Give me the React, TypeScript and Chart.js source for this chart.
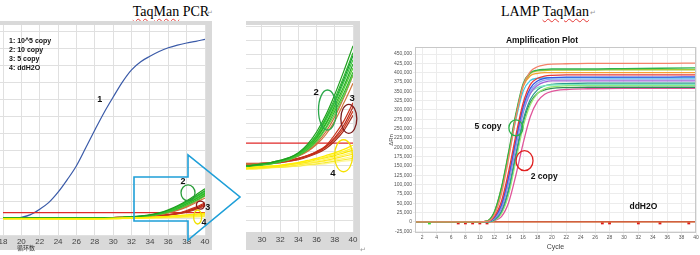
import React, { useEffect, useRef } from "react";
import { Chart, registerables } from "chart.js";

Chart.register(...registerables);

const SANS = '"Liberation Sans", Arial, sans-serif';
const SERIF = '"Liberation Serif", "Times New Roman", serif';

// ---------------- TaqMan PCR data (relative fluorescence units) ----------------
const pcrBlueCycles = [18, 19, 20, 21, 22, 23, 24, 25, 26, 27, 28, 29, 30, 31, 32, 33, 34, 35, 36, 37, 38, 39, 40];
const pcrBlue = [-0.3, -0.2, 0.2, 1.0, 2.6, 4.6, 7.6, 11.3, 15.4, 20.6, 25.9, 31.0, 35.6, 40.0, 43.6, 46.0, 47.6, 49.0, 50.1, 50.9, 51.5, 52.0, 52.6];

const pcrCycles = [18, 22, 26, 28, 29, 30, 31, 32, 33, 34, 35, 36, 37, 38, 39, 40];
const pcrGreen1 = [0, -0.05, -0.05, -0.05, 0.0, 0.1, 0.2, 0.35, 0.55, 0.9, 1.5, 2.4, 3.6, 5.1, 6.8, 8.6];
const pcrGreen2 = [0, -0.05, -0.05, -0.05, 0.0, 0.1, 0.2, 0.35, 0.55, 0.85, 1.4, 2.2, 3.4, 4.8, 6.4, 8.1];
const pcrGreen3 = [-0.05, -0.1, -0.1, -0.1, 0.0, 0.05, 0.15, 0.3, 0.5, 0.8, 1.3, 2.1, 3.2, 4.5, 6.0, 7.6];
const pcrGreen4 = [-0.05, -0.1, -0.1, -0.1, -0.05, 0.05, 0.15, 0.3, 0.5, 0.8, 1.3, 2.0, 3.0, 4.3, 5.7, 7.3];
const pcrGreen5 = [0, -0.05, -0.05, -0.05, 0.0, 0.05, 0.15, 0.3, 0.45, 0.75, 1.2, 1.9, 2.9, 4.1, 5.5, 7.0];
const pcrGreen6 = [-0.05, -0.1, -0.1, -0.1, -0.05, 0.05, 0.1, 0.25, 0.45, 0.7, 1.15, 1.8, 2.7, 3.9, 5.2, 6.7];
const pcrGreen7 = [-0.05, -0.1, -0.1, -0.1, -0.05, 0.0, 0.1, 0.25, 0.4, 0.7, 1.1, 1.7, 2.6, 3.7, 5.0, 6.5];
const pcrGreen8 = [0, -0.05, -0.05, -0.05, 0.0, 0.05, 0.15, 0.3, 0.5, 0.8, 1.3, 2.1, 3.3, 4.6, 6.2, 7.9];
const pcrBrown1 = [0.1, 0.1, 0.1, 0.1, 0.1, 0.15, 0.2, 0.3, 0.45, 0.7, 1.05, 1.6, 2.4, 3.5, 4.9, 6.5];
const pcrBrown2 = [0.1, 0.1, 0.1, 0.1, 0.1, 0.15, 0.2, 0.3, 0.4, 0.65, 1.0, 1.5, 2.2, 3.2, 4.5, 5.9];
const pcrRed1 = [0.15, 0.15, 0.15, 0.15, 0.15, 0.15, 0.2, 0.25, 0.35, 0.5, 0.7, 1.0, 1.4, 2.2, 3.2, 4.5];
const pcrRed2 = [0.1, 0.1, 0.1, 0.1, 0.1, 0.15, 0.2, 0.25, 0.35, 0.5, 0.7, 0.95, 1.35, 2.0, 2.9, 4.2];
const pcrRed3 = [0.1, 0.1, 0.1, 0.1, 0.1, 0.1, 0.15, 0.2, 0.3, 0.45, 0.65, 0.9, 1.3, 1.9, 2.7, 3.9];
const pcrRed4 = [0.1, 0.1, 0.1, 0.1, 0.1, 0.1, 0.15, 0.2, 0.3, 0.4, 0.6, 0.85, 1.2, 1.75, 2.5, 3.6];
const pcrYellow1 = [-0.15, -0.15, -0.2, -0.2, -0.15, -0.1, -0.05, 0.0, 0.1, 0.2, 0.35, 0.5, 0.7, 0.9, 1.15, 1.45];
const pcrYellow2 = [-0.15, -0.15, -0.2, -0.2, -0.15, -0.1, -0.05, 0.0, 0.1, 0.2, 0.3, 0.45, 0.6, 0.8, 1.0, 1.25];
const pcrYellow3 = [-0.2, -0.2, -0.25, -0.25, -0.2, -0.15, -0.1, -0.05, 0.05, 0.15, 0.25, 0.4, 0.55, 0.7, 0.9, 1.1];
const pcrYellow4 = [-0.2, -0.2, -0.25, -0.25, -0.2, -0.15, -0.1, -0.05, 0.0, 0.1, 0.2, 0.3, 0.45, 0.6, 0.75, 0.95];
const pcrYellow5 = [-0.2, -0.25, -0.25, -0.25, -0.2, -0.2, -0.15, -0.1, -0.05, 0.05, 0.15, 0.25, 0.35, 0.5, 0.65, 0.8];
const pcrYellow6 = [-0.25, -0.25, -0.3, -0.3, -0.25, -0.2, -0.15, -0.1, -0.05, 0.0, 0.1, 0.2, 0.3, 0.4, 0.5, 0.65];
const pcrYellow7 = [-0.25, -0.3, -0.3, -0.3, -0.25, -0.2, -0.15, -0.15, -0.1, -0.05, 0.05, 0.1, 0.2, 0.3, 0.4, 0.5];
const pcrYellow8 = [-0.3, -0.3, -0.3, -0.3, -0.3, -0.25, -0.2, -0.15, -0.1, -0.05, 0.0, 0.05, 0.1, 0.2, 0.3, 0.35];
const pcrThreshold = 1.6;
const pcrLegendLines = ["1: 10^5 copy", "2: 10 copy", "3: 5 copy", "4: ddH2O"];

// ---------------- LAMP TaqMan data (ΔRn, thousands) ----------------
const lampCycles = [1, 5, 10, 11, 12, 13, 14, 15, 16, 17, 18, 19, 20, 22, 25, 30, 35, 40];
const lampSalmon = [0, 0, 0, 1, 18, 75, 170, 280, 365, 403, 416, 421, 423, 424, 425, 425, 425, 426];
const lampGreen = [0, 0, 0, 2, 26, 92, 188, 290, 370, 400, 407, 409, 410, 410, 410, 411, 412, 413];
const lampYellowGreen = [0, 0, 0, 2, 24, 88, 182, 285, 366, 398, 405, 406, 407, 407, 407, 408, 408, 408];
const lampOrange = [0, 0, 0, 2, 25, 90, 184, 283, 362, 392, 398, 400, 400, 400, 400, 400, 400, 400];
const lampRed = [0, 0, 0, 1, 14, 55, 135, 232, 318, 368, 385, 391, 393, 394, 394, 394, 394, 394];
const lampBlue = [0, 0, 0, 1, 11, 46, 122, 220, 308, 358, 378, 385, 387, 388, 388, 388, 388, 389];
const lampCyan = [0, 0, 0, 2, 24, 86, 178, 274, 350, 379, 385, 386, 387, 387, 387, 386, 386, 386];
const lampLightBlue = [0, 0, 0, 1, 9, 40, 112, 208, 298, 350, 372, 380, 383, 383, 383, 383, 383, 383];
const lampPurple = [0, 0, 0, 1, 8, 36, 106, 202, 292, 344, 366, 375, 378, 378, 378, 378, 378, 378];
const lampMint = [0, 0, 0, 1, 10, 44, 118, 215, 300, 345, 360, 365, 367, 368, 368, 368, 368, 368];
const lampTeal = [0, 0, 0, 0, 5, 28, 88, 182, 272, 328, 354, 365, 369, 371, 372, 372, 372, 372];
const lampLightGreen = [0, 0, 0, 0, 4, 22, 74, 164, 254, 314, 344, 357, 362, 365, 366, 366, 366, 366];
const lampDarkGreen = [0, 0, 0, 0, 5, 25, 84, 175, 264, 320, 345, 354, 358, 360, 361, 361, 361, 361];
const lampPink = [0, 0, 0, 0, 3, 14, 52, 125, 210, 282, 323, 342, 350, 355, 357, 358, 358, 358];
const lampBaselineCycles = [1, 40];
const lampBaseline = [0, 0];
const lampRedMarkerCycles = [7, 8, 9, 10, 11, 27, 28, 32, 35, 39];
const lampGreenMarkerCycles = [3];
const lampMarkerLevel = -3;

// ---------------- helpers ----------------
const pts = (xs: number[], ys: number[]) => xs.map((x, i) => ({ x, y: ys[i] }));
const line = (xs: number[], ys: number[], color: string, width = 1.2) => ({
  data: pts(xs, ys),
  borderColor: color,
  backgroundColor: color,
  borderWidth: width,
  pointRadius: 0,
  fill: false,
  cubicInterpolationMode: "monotone",
});

function pcrDatasets(withBlue: boolean) {
  const sets: any[] = [
    line(pcrCycles, pcrYellow1, "#ffee00"),
    line(pcrCycles, pcrYellow2, "#fff23a"),
    line(pcrCycles, pcrYellow3, "#f8e800"),
    line(pcrCycles, pcrYellow4, "#fff566"),
    line(pcrCycles, pcrYellow5, "#ffe81a"),
    line(pcrCycles, pcrYellow6, "#fff480"),
    line(pcrCycles, pcrYellow7, "#f5ea30"),
    line(pcrCycles, pcrYellow8, "#fff799"),
    line(pcrCycles, pcrGreen1, "#1fa01f"),
    line(pcrCycles, pcrGreen2, "#2db82d"),
    line(pcrCycles, pcrGreen3, "#3cc83c"),
    line(pcrCycles, pcrGreen4, "#22aa22"),
    line(pcrCycles, pcrGreen5, "#4fcf2f"),
    line(pcrCycles, pcrGreen6, "#33b533"),
    line(pcrCycles, pcrGreen7, "#66d04a"),
    line(pcrCycles, pcrGreen8, "#159a35"),
    line(pcrCycles, pcrBrown1, "#c86a3a"),
    line(pcrCycles, pcrBrown2, "#d0783c"),
    line(pcrCycles, pcrRed1, "#c83018"),
    line(pcrCycles, pcrRed2, "#b82818"),
    line(pcrCycles, pcrRed3, "#d03c20"),
    line(pcrCycles, pcrRed4, "#a82a1a"),
    line([pcrCycles[0], pcrCycles[pcrCycles.length - 1]], [pcrThreshold, pcrThreshold], "#e02828", 1.2),
  ];
  if (withBlue) sets.push(line(pcrBlueCycles, pcrBlue, "#3a5aa8", 1.2));
  return sets;
}

const notesPlugin = (id: string, notes: any[]) => ({
  id,
  afterDatasetsDraw(chart: any) {
    const { ctx, scales } = chart;
    ctx.save();
    for (const n of notes) {
      const px = scales.x.getPixelForValue(n.x);
      const py = scales.y.getPixelForValue(n.y);
      if (n.kind === "text") {
        ctx.font = n.font;
        ctx.fillStyle = n.color;
        ctx.textAlign = n.align || "center";
        ctx.textBaseline = "middle";
        ctx.fillText(n.text, px, py);
      } else {
        ctx.strokeStyle = n.color;
        ctx.lineWidth = n.width;
        ctx.beginPath();
        ctx.ellipse(px, py, n.rx, n.ry, 0, 0, Math.PI * 2);
        ctx.stroke();
      }
    }
    ctx.restore();
  },
});

const framePlugin = (bottomBand: number) => ({
  id: "grayFrame",
  beforeDraw(chart: any) {
    const { ctx, chartArea: a } = chart;
    ctx.save();
    ctx.fillStyle = "#d9d9d9";
    ctx.fillRect(0, a.top - 4, a.right + 7, 4);
    ctx.fillRect(a.right, a.top - 4, 7, a.bottom - a.top + 4 + bottomBand);
    ctx.fillRect(0, a.bottom, a.right + 7, bottomBand);
    ctx.restore();
  },
});

const pcrLegendPlugin = {
  id: "pcrLegend",
  afterDatasetsDraw(chart: any) {
    const { ctx, chartArea: a } = chart;
    ctx.save();
    ctx.font = `bold 7px ${SANS}`;
    ctx.fillStyle = "#111";
    ctx.textAlign = "left";
    ctx.textBaseline = "middle";
    pcrLegendLines.forEach((t, i) => ctx.fillText(t, a.left + 6, a.top + 16 + i * 9));
    ctx.restore();
  },
};

const boxPlugin = {
  id: "plotBox",
  afterDraw(chart: any) {
    const { ctx, chartArea: a } = chart;
    ctx.save();
    ctx.strokeStyle = "#c8c8c8";
    ctx.lineWidth = 1;
    ctx.strokeRect(a.left + 0.5, a.top + 0.5, a.right - a.left - 1, a.bottom - a.top - 1);
    ctx.restore();
  },
};

const numFont = (size: number) => ({ size, family: SANS });
const lbl = (x: number, y: number, text: string, size: number, color = "#111") => ({
  kind: "text", x, y, text, font: `bold ${size}px ${SANS}`, color,
});
const ell = (x: number, y: number, rx: number, ry: number, color: string, width = 1.3) => ({
  kind: "ellipse", x, y, rx, ry, color, width,
});

const leftNotes = [
  lbl(28.55, 35, "1", 9),
  ell(38.15, 7.4, 7, 8, "#2a9d3a"),
  lbl(37.6, 10.6, "2", 9),
  ell(39.5, 3.8, 4, 4, "#8b1a1a"),
  lbl(40.3, 3.2, "3", 9),
  ell(39.2, 0.3, 4, 7, "#f0e000"),
  lbl(39.9, -1.2, "4", 9),
];

const midNotes = [
  ell(37.2, 3.98, 9, 20, "#2aa84a"),
  lbl(35.94, 5.28, "2", 9.5),
  ell(39.54, 3.35, 8, 14.5, "#7b1c1c"),
  lbl(39.9, 4.8, "3", 9.5),
  ell(38.96, 0.69, 9, 16, "#f5e000"),
  lbl(37.8, -0.57, "4", 9.5),
];

const lampNotes = [
  ell(15.0, 252, 7, 8, "#2db34a"),
  ell(16.2, 164, 8.5, 10, "#e02020"),
  lbl(11.14, 254.5, "5 copy", 8.5),
  lbl(18.93, 120.6, "2 copy", 8.5),
  lbl(32.7, 40.2, "ddH2O", 8.5),
];

function pcrConfig(kind: "left" | "mid"): any {
  const isLeft = kind === "left";
  return {
    type: "line",
    data: { datasets: pcrDatasets(isLeft) },
    options: {
      responsive: false,
      animation: false,
      devicePixelRatio: 1,
      events: [],
      layout: { padding: { top: 7, right: isLeft ? 8 : 9, left: 0, bottom: 0 } },
      plugins: { legend: { display: false }, tooltip: { enabled: false }, title: { display: false } },
      scales: {
        x: {
          type: "linear",
          min: isLeft ? 18 : 28.25,
          max: 40,
          afterFit: (s: any) => { s.height = isLeft ? 20 : 23; },
          grid: { color: "#e0e0e0", drawTicks: false },
          border: { display: false },
          ticks: {
            stepSize: 2, includeBounds: false, autoSkip: false, maxRotation: 0,
            padding: isLeft ? 2 : 3, color: "#444", font: numFont(8),
          },
        },
        y: {
          type: "linear",
          min: isLeft ? -5 : -4.8,
          max: isLeft ? 56.8 : 10.1,
          afterFit: (s: any) => { s.width = isLeft ? 23 : 20; },
          grid: { color: "#e0e0e0", drawTicks: isLeft, tickLength: 3 },
          border: { display: false },
          ticks: { display: false, stepSize: isLeft ? 5 : 1, includeBounds: false },
        },
      },
    },
    plugins: isLeft
      ? [framePlugin(15), pcrLegendPlugin, notesPlugin("leftNotes", leftNotes)]
      : [framePlugin(18), notesPlugin("midNotes", midNotes)],
  };
}

function lampConfig(): any {
  const curves: [number[], string][] = [
    [lampSalmon, "#f4826a"],
    [lampGreen, "#2fb34a"],
    [lampYellowGreen, "#a8c838"],
    [lampOrange, "#f5a030"],
    [lampRed, "#e83a3a"],
    [lampBlue, "#3a52e0"],
    [lampCyan, "#3cc8e8"],
    [lampLightBlue, "#8aa8f0"],
    [lampPurple, "#a060d8"],
    [lampMint, "#7ee8c0"],
    [lampTeal, "#2a9d8f"],
    [lampLightGreen, "#9ae870"],
    [lampDarkGreen, "#2e8b57"],
    [lampPink, "#e0559a"],
  ];
  const datasets: any[] = curves.map(([ys, c]) => line(lampCycles, ys, c, 1.3));
  datasets.push(line(lampBaselineCycles, lampBaseline, "#d06040", 1.4));
  datasets.push(line(lampBaselineCycles, lampBaseline, "#e8a060", 1.2));
  datasets.push({
    data: lampRedMarkerCycles.map((x) => ({ x, y: lampMarkerLevel })),
    showLine: false, pointStyle: "rect", pointRadius: 2, borderWidth: 0,
    backgroundColor: "#e01818", borderColor: "#e01818",
  });
  datasets.push({
    data: lampGreenMarkerCycles.map((x) => ({ x, y: lampMarkerLevel })),
    showLine: false, pointStyle: "rect", pointRadius: 2, borderWidth: 0,
    backgroundColor: "#30e030", borderColor: "#30e030",
  });
  return {
    type: "line",
    data: { datasets },
    options: {
      responsive: false,
      animation: false,
      devicePixelRatio: 1,
      events: [],
      layout: { padding: { top: 17, right: 4, left: 0, bottom: 0 } },
      plugins: { legend: { display: false }, tooltip: { enabled: false }, title: { display: false } },
      scales: {
        x: {
          type: "linear",
          min: 1,
          max: 40,
          afterFit: (s: any) => { s.height = 22; },
          grid: { color: "#ececec", tickLength: 2 },
          border: { display: false },
          ticks: { stepSize: 2, includeBounds: false, autoSkip: false, maxRotation: 0, padding: 0, color: "#555", font: numFont(5) },
          title: { display: true, text: "Cycle", color: "#444", font: numFont(7), padding: { top: 0, bottom: 3.8 } },
        },
        y: {
          type: "linear",
          min: -30,
          max: 469,
          afterFit: (s: any) => { s.width = 45; },
          grid: { color: "#ececec", tickLength: 2 },
          border: { display: false },
          ticks: {
            stepSize: 25, includeBounds: false, padding: 1, color: "#555", font: numFont(5),
            callback: (v: any) => (Number(v) * 1000).toLocaleString("en-US"),
          },
          title: { display: true, text: "ΔRn", color: "#444", font: numFont(6), padding: { top: 18, bottom: 0 } },
        },
      },
    },
    plugins: [boxPlugin, notesPlugin("lampNotes", lampNotes)],
  };
}

function ChartCanvas({ build, width, height, left = 0 }: any) {
  const ref = useRef<HTMLCanvasElement>(null);
  useEffect(() => {
    const chart = new Chart(ref.current as HTMLCanvasElement, build());
    return () => chart.destroy();
  }, []);
  return (
    <canvas
      ref={ref}
      width={width}
      height={height}
      style={{ position: "absolute", left, top: 0, width, height, display: "block" }}
    />
  );
}

const wavy: any = {
  textDecorationLine: "underline",
  textDecorationStyle: "wavy",
  textDecorationColor: "#e53935",
  textDecorationThickness: "1px",
  textUnderlineOffset: "2px",
};

const ret = (left: number, top: number) => (
  <div style={{ position: "absolute", left, top, fontSize: 7, color: "#999", fontFamily: SANS, lineHeight: "8px" }}>↵</div>
);

export default function App() {
  return (
    <div style={{ position: "absolute", left: 0, top: 0, width: 700, height: 255, overflow: "hidden", background: "#fff" }}>
      <div style={{ position: "absolute", left: 171, top: 4, transform: "translateX(-50%)", fontFamily: SERIF, fontSize: 14, lineHeight: "16px", whiteSpace: "nowrap", color: "#000" }}>
        <span style={wavy}>TaqMan</span> PCR
      </div>
      {ret(207, 9)}
      <div style={{ position: "absolute", left: 545, top: 4, transform: "translateX(-50%)", fontFamily: SERIF, fontSize: 14, lineHeight: "16px", whiteSpace: "nowrap", color: "#000" }}>
        LAMP <span style={wavy}>TaqMan</span>
      </div>
      {ret(590, 9)}

      <div style={{ position: "absolute", left: 0, top: 18, width: 213, height: 237, overflow: "hidden" }}>
        <ChartCanvas build={() => pcrConfig("left")} width={233} height={237} left={-20} />
      </div>
      <div style={{ position: "absolute", left: 17, top: 244, fontFamily: '"Noto Sans CJK SC", sans-serif', fontSize: 6, lineHeight: "8px", color: "#333" }}>循环数</div>

      <div style={{ position: "absolute", left: 246, top: 18, width: 116, height: 237, overflow: "hidden" }}>
        <ChartCanvas build={() => pcrConfig("mid")} width={136} height={237} left={-20} />
      </div>
      {ret(360, 246)}

      <div style={{ position: "absolute", left: 370, top: 30, width: 330, height: 225, overflow: "hidden" }}>
        <ChartCanvas build={lampConfig} width={330} height={225} />
      </div>
      <div style={{ position: "absolute", left: 542, top: 35, transform: "translateX(-50%)", fontFamily: SANS, fontWeight: "bold", fontSize: 8.5, lineHeight: "10px", whiteSpace: "nowrap", color: "#111" }}>
        Amplification Plot
      </div>

      <svg width={700} height={255} style={{ position: "absolute", left: 0, top: 0, pointerEvents: "none" }}>
        <polygon
          points="134,177 188,177 188,155 240,197 188,240 188,221 134,221"
          fill="none"
          stroke="#1e9fd8"
          strokeWidth={1.6}
          strokeLinejoin="miter"
        />
      </svg>
    </div>
  );
}
